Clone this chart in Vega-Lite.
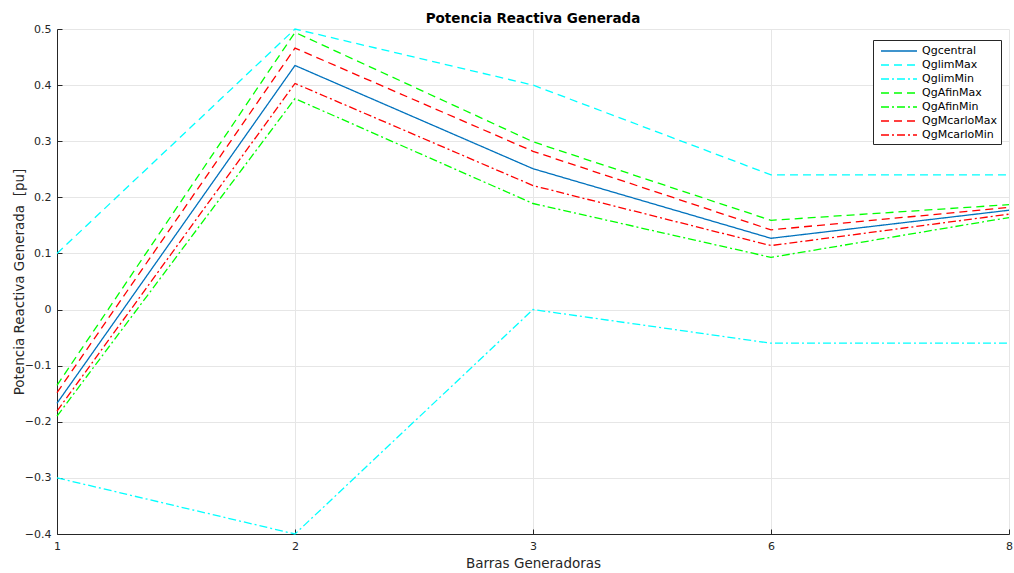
{
  "$schema": "https://vega.github.io/schema/vega-lite/v6.json",
  "width": 952,
  "height": 505,
  "autosize": {"type": "none"},
  "padding": {"left": 57, "top": 29, "right": 5, "bottom": 39},
  "background": "white",
  "config": {
    "font": "DejaVu Sans",
    "view": {"stroke": null},
    "axis": {"labelFont": "DejaVu Sans", "titleFont": "DejaVu Sans", "labelColor": "#262626", "titleColor": "#262626", "titleFontWeight": "normal", "gridColor": "#e6e6e6", "domainColor": "#262626", "tickColor": "#262626", "labelFontSize": 11, "titleFontSize": 13.5}
  },
  "title": {"text": "Potencia Reactiva Generada", "fontSize": 13.5, "fontWeight": "bold", "color": "#000000", "anchor": "middle", "offset": -2, "font": "DejaVu Sans"},
  "data": {
    "values": [
      {"serie": "Qgcentral", "barra": "1", "valor": -0.167},
      {"serie": "Qgcentral", "barra": "2", "valor": 0.435},
      {"serie": "Qgcentral", "barra": "3", "valor": 0.251},
      {"serie": "Qgcentral", "barra": "6", "valor": 0.127},
      {"serie": "Qgcentral", "barra": "8", "valor": 0.177},
      {"serie": "QglimMax", "barra": "1", "valor": 0.1},
      {"serie": "QglimMax", "barra": "2", "valor": 0.5},
      {"serie": "QglimMax", "barra": "3", "valor": 0.4},
      {"serie": "QglimMax", "barra": "6", "valor": 0.24},
      {"serie": "QglimMax", "barra": "8", "valor": 0.24},
      {"serie": "QglimMin", "barra": "1", "valor": -0.3},
      {"serie": "QglimMin", "barra": "2", "valor": -0.4},
      {"serie": "QglimMin", "barra": "3", "valor": 0.0},
      {"serie": "QglimMin", "barra": "6", "valor": -0.06},
      {"serie": "QglimMin", "barra": "8", "valor": -0.06},
      {"serie": "QgAfinMax", "barra": "1", "valor": -0.135},
      {"serie": "QgAfinMax", "barra": "2", "valor": 0.494},
      {"serie": "QgAfinMax", "barra": "3", "valor": 0.299},
      {"serie": "QgAfinMax", "barra": "6", "valor": 0.159},
      {"serie": "QgAfinMax", "barra": "8", "valor": 0.187},
      {"serie": "QgAfinMin", "barra": "1", "valor": -0.19},
      {"serie": "QgAfinMin", "barra": "2", "valor": 0.376},
      {"serie": "QgAfinMin", "barra": "3", "valor": 0.189},
      {"serie": "QgAfinMin", "barra": "6", "valor": 0.093},
      {"serie": "QgAfinMin", "barra": "8", "valor": 0.164},
      {"serie": "QgMcarloMax", "barra": "1", "valor": -0.148},
      {"serie": "QgMcarloMax", "barra": "2", "valor": 0.466},
      {"serie": "QgMcarloMax", "barra": "3", "valor": 0.282},
      {"serie": "QgMcarloMax", "barra": "6", "valor": 0.142},
      {"serie": "QgMcarloMax", "barra": "8", "valor": 0.182},
      {"serie": "QgMcarloMin", "barra": "1", "valor": -0.181},
      {"serie": "QgMcarloMin", "barra": "2", "valor": 0.403},
      {"serie": "QgMcarloMin", "barra": "3", "valor": 0.221},
      {"serie": "QgMcarloMin", "barra": "6", "valor": 0.114},
      {"serie": "QgMcarloMin", "barra": "8", "valor": 0.17}
    ]
  },
  "mark": {"type": "line", "strokeWidth": 1.3},
  "encoding": {
    "x": {
      "field": "barra", "type": "ordinal", "title": "Barras Generadoras",
      "scale": {"type": "point", "padding": 0},
      "axis": {"labelAngle": 0, "grid": true, "tickSize": -5, "labelPadding": 11, "titlePadding": 5}
    },
    "y": {
      "field": "valor", "type": "quantitative", "title": "Potencia Reactiva Generada \u00a0[pu]",
      "scale": {"domain": [-0.4, 0.5], "nice": false, "zero": false},
      "axis": {"values": [-0.4, -0.3, -0.2, -0.1, 0, 0.1, 0.2, 0.3, 0.4, 0.5], "format": "~g", "tickSize": -5, "labelPadding": 11, "titlePadding": -2}
    },
    "color": {
      "field": "serie", "type": "nominal", "title": null,
      "scale": {
        "domain": ["Qgcentral", "QglimMax", "QglimMin", "QgAfinMax", "QgAfinMin", "QgMcarloMax", "QgMcarloMin"],
        "range": ["#0072BD", "#00FFFF", "#00FFFF", "#00FF00", "#00FF00", "#FF0000", "#FF0000"]
      },
      "legend": {
        "orient": "none", "legendX": 816, "legendY": 11,
        "symbolType": "M-0.5,0H5.5", "symbolSize": 144, "symbolStrokeWidth": 1.5,
        "labelFontSize": 11, "labelColor": "#000000", "labelFont": "DejaVu Sans",
        "rowPadding": 2, "padding": 4, "strokeColor": "#262626", "fillColor": "white",
        "labelOffset": 31
      }
    },
    "strokeDash": {
      "field": "serie", "type": "nominal", "title": null,
      "scale": {
        "domain": ["Qgcentral", "QglimMax", "QglimMin", "QgAfinMax", "QgAfinMin", "QgMcarloMax", "QgMcarloMin"],
        "range": [[1, 0], [8, 5], [8, 3, 2, 3], [8, 5], [8, 3, 2, 3], [8, 5], [8, 3, 2, 3]]
      }
    }
  }
}
